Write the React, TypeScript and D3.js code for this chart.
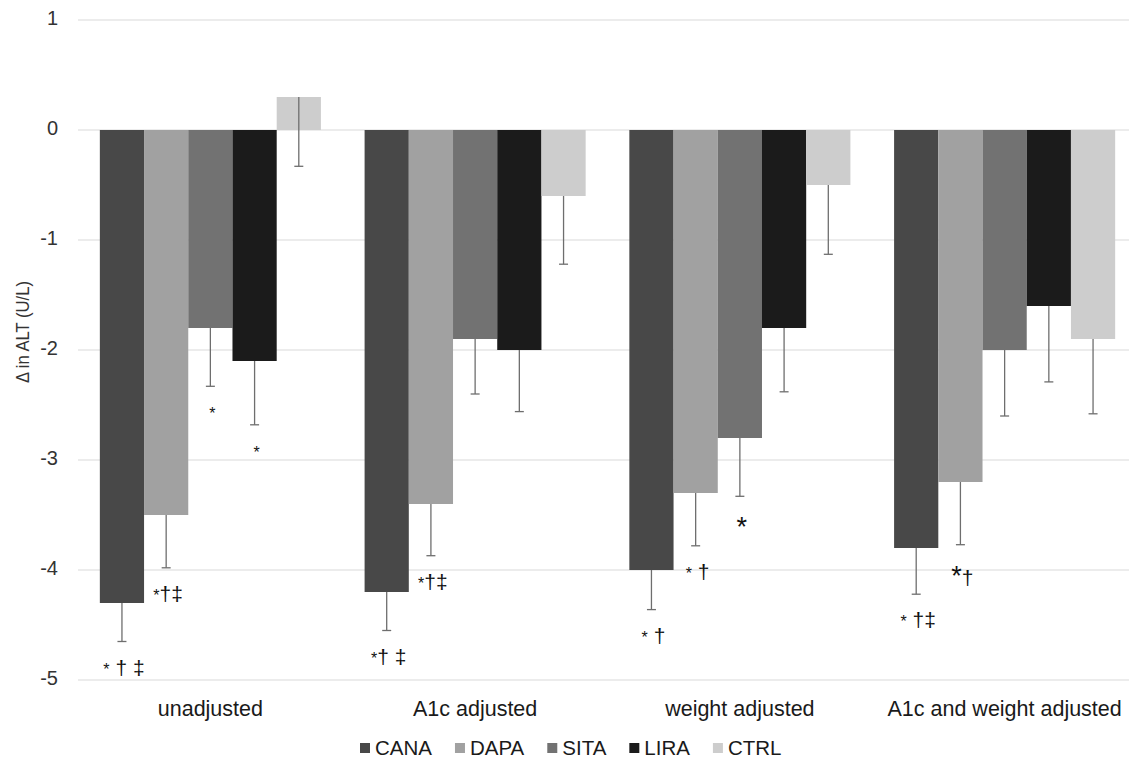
import { useRef, useEffect } from "react";
import * as d3 from "d3";

const categories = ["unadjusted", "A1c adjusted", "weight adjusted", "A1c and weight adjusted"];
const seriesNames = ["CANA", "DAPA", "SITA", "LIRA", "CTRL"];

const canaValues = [-4.3, -4.2, -4.0, -3.8];
const dapaValues = [-3.5, -3.4, -3.3, -3.2];
const sitaValues = [-1.8, -1.9, -2.8, -2.0];
const liraValues = [-2.1, -2.0, -1.8, -1.6];
const ctrlValues = [0.3, -0.6, -0.5, -1.9];

// minus-direction error bar lengths
const canaErr = [0.35, 0.35, 0.36, 0.42];
const dapaErr = [0.48, 0.47, 0.48, 0.57];
const sitaErr = [0.53, 0.5, 0.53, 0.6];
const liraErr = [0.58, 0.56, 0.58, 0.69];
const ctrlErr = [0.63, 0.62, 0.63, 0.68];

// significance marks under the error bars ("S" = large asterisk)
const canaMarks = ["* † ‡", "*† ‡", "* †", "*  †‡"];
const dapaMarks = ["*†‡", "*†‡", "*  †", "S†"];
const sitaMarks = ["*", "", "S", ""];
const liraMarks = ["*", "", "", ""];
const ctrlMarks = ["", "", "", ""];

const yTicks = [1, 0, -1, -2, -3, -4, -5];

const colors = ["#484848", "#a1a1a1", "#727272", "#1b1b1b", "#cdcdcd"];

const values = [canaValues, dapaValues, sitaValues, liraValues, ctrlValues];
const errs = [canaErr, dapaErr, sitaErr, liraErr, ctrlErr];
const marks = [canaMarks, dapaMarks, sitaMarks, liraMarks, ctrlMarks];

export default function App() {
  const svgRef = useRef<SVGSVGElement>(null);
  const W = 1129;
  const H = 761;

  useEffect(() => {
    if (!svgRef.current) return;
    const svg = d3.select(svgRef.current);
    svg.selectAll("*").remove();
    const font = "'Liberation Sans', Arial, sans-serif";

    const left = 78;
    const right = 1137;
    const y = d3.scaleLinear().domain([-5, 1]).range([680, 20]);

    const x0 = d3.scaleBand().domain(categories).range([left, right]).paddingInner(0.165).paddingOuter(0.0825);
    const x1 = d3.scaleBand().domain(seriesNames).range([0, x0.bandwidth()]);

    // gridlines
    svg.append("g")
      .selectAll("line")
      .data(yTicks)
      .join("line")
      .attr("x1", left)
      .attr("x2", W)
      .attr("y1", (d) => y(d))
      .attr("y2", (d) => y(d))
      .attr("stroke", "#d9d9d9")
      .attr("stroke-width", 1.2);

    // y tick labels
    svg.append("g")
      .selectAll("text")
      .data(yTicks)
      .join("text")
      .attr("x", 58)
      .attr("y", (d) => y(d))
      .attr("text-anchor", "end")
      .attr("dominant-baseline", "middle")
      .attr("font-family", font)
      .attr("font-size", 20)
      .attr("fill", "#333")
      .text((d) => String(d));

    // y axis title
    svg.append("text")
      .attr("transform", `translate(29,332) rotate(-90)`)
      .attr("text-anchor", "middle")
      .attr("font-family", font)
      .attr("font-size", 19)
      .attr("textLength", 102)
      .attr("lengthAdjust", "spacingAndGlyphs")
      .attr("fill", "#333")
      .text("Δ in ALT (U/L)");

    // bars
    seriesNames.forEach((s, si) => {
      const g = svg.append("g");
      categories.forEach((c, ci) => {
        const v = values[si][ci];
        const bx = x0(c)! + x1(s)!;
        const bw = x1.bandwidth();
        g.append("rect")
          .attr("x", bx)
          .attr("y", Math.min(y(v), y(0)))
          .attr("width", bw)
          .attr("height", Math.abs(y(v) - y(0)))
          .attr("fill", colors[si]);

        // error bar (minus direction)
        const cx = bx + bw / 2;
        const lo = v - errs[si][ci];
        g.append("line")
          .attr("x1", cx).attr("x2", cx)
          .attr("y1", y(v)).attr("y2", y(lo))
          .attr("stroke", "#6e6e6e").attr("stroke-width", 1.3);
        g.append("line")
          .attr("x1", cx - 4.5).attr("x2", cx + 4.5)
          .attr("y1", y(lo)).attr("y2", y(lo))
          .attr("stroke", "#6e6e6e").attr("stroke-width", 1.3);

        // significance marks
        const m = marks[si][ci];
        if (m) {
          const t = g.append("text")
            .attr("x", cx + 2)
            .attr("y", y(lo) + 33)
            .attr("text-anchor", "middle")
            .attr("font-family", font)
            .attr("font-size", 21)
            .attr("fill", "#111");
          for (const ch of Array.from(m)) {
            if (ch === "*") {
              t.append("tspan").attr("font-size", 16).text("*");
            } else if (ch === "S") {
              t.append("tspan").attr("font-size", 27).attr("dy", 7).text("*");
              t.append("tspan").attr("dy", -7).text("");
            } else {
              t.append("tspan").text(ch);
            }
          }
        }
      });
    });

    // category labels
    svg.append("g")
      .selectAll("text")
      .data(categories)
      .join("text")
      .attr("x", (d) => x0(d)! + x0.bandwidth() / 2)
      .attr("y", 716)
      .attr("text-anchor", "middle")
      .attr("font-family", font)
      .attr("font-size", 21.5)
      .attr("fill", "#1a1a1a")
      .text((d) => d);

    // legend
    const lg = svg.append("g");
    let lx = 360;
    seriesNames.forEach((s, si) => {
      lg.append("rect")
        .attr("x", lx)
        .attr("y", 743)
        .attr("width", 10)
        .attr("height", 10)
        .attr("fill", colors[si]);
      const t = lg.append("text")
        .attr("x", lx + 15)
        .attr("y", 755)
        .attr("font-family", font)
        .attr("font-size", 20.5)
        .attr("fill", "#1a1a1a")
        .text(s);
      const tw = (t.node() as SVGTextElement).getComputedTextLength();
      lx += 15 + tw + 23;
    });
  }, []);

  return (
    <svg
      ref={svgRef}
      width={W}
      height={H}
      viewBox={`0 0 ${W} ${H}`}
      style={{ position: "absolute", left: 0, top: 0, background: "#fff" }}
    />
  );
}
